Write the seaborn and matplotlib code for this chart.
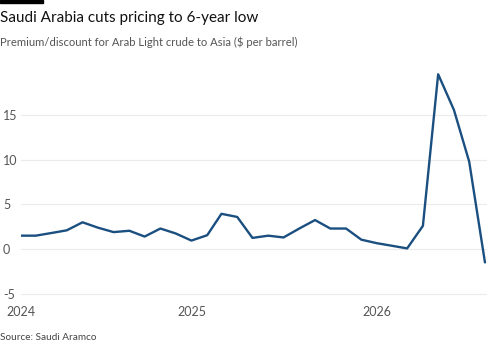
import matplotlib.pyplot as plt
import matplotlib.patches as patches
import seaborn as sns
import pandas as pd

# monthly premium/discount, Feb 2024 .. Aug 2026
months = pd.date_range("2024-02-01", periods=31, freq="MS")
premium = [1.5, 1.5, 1.8, 2.1, 3.0, 2.4, 1.9, 2.05, 1.4, 2.3, 1.75, 0.95,
           1.55, 3.95, 3.6, 1.25, 1.5, 1.3, 2.3, 3.25, 2.3, 2.3, 1.05, 0.65,
           0.35, 0.07, 2.6, 19.6, 15.6, 9.8, -1.5]
year_ticks = pd.to_datetime(["2024-02-01", "2025-01-01", "2026-01-01"])
year_labels = ["2024", "2025", "2026"]
quarter_ticks = pd.to_datetime(["2024-04-01", "2024-07-01", "2024-10-01",
                                "2025-04-01", "2025-07-01", "2025-10-01",
                                "2026-04-01", "2026-07-01"])
y_ticks = [-5, 0, 5, 10, 15]

df = pd.DataFrame({"month": months, "premium": premium})

sns.set_theme(style="white")
plt.rcParams["font.family"] = ["Lato", "DejaVu Sans"]

fig = plt.figure(figsize=(5, 3.57), dpi=100)
ax = fig.add_axes([0.042, 0.170, 0.932, 0.627])

sns.lineplot(data=df, x="month", y="premium", color="#1b4f80", linewidth=1.7, ax=ax)

ax.set_ylim(-5.3, 19.8)
ax.set_xlim(months[0], pd.Timestamp("2026-08-05"))
ax.set_yticks(y_ticks)
ax.set_yticklabels([str(v) for v in y_ticks])
ax.yaxis.grid(True, color="#ebebeb", linewidth=0.8)
ax.set_axisbelow(True)
for s in ax.spines.values():
    s.set_visible(False)

ax.set_xticks(list(year_ticks) + list(quarter_ticks))
ax.set_xticklabels(year_labels + [""] * len(quarter_ticks))
ax.tick_params(axis="x", length=4, color="#d8d8d8", labelsize=9, labelcolor="#555555", pad=3)
ax.tick_params(axis="y", length=0, labelsize=9, labelcolor="#555555", pad=13)
for lab in ax.get_yticklabels():
    lab.set_horizontalalignment("left")
ax.set_xlabel("")
ax.set_ylabel("")

fig.add_artist(patches.Rectangle((0, 1 - 3 / 357), 43 / 500, 3 / 357,
                                 transform=fig.transFigure, color="black"))
fig.text(0.0, 1 - 18 / 357, "Saudi Arabia cuts pricing to 6-year low",
         fontsize=11, color="#111111", va="center", ha="left")
fig.text(0.0, 1 - 42 / 357, "Premium/discount for Arab Light crude to Asia ($ per barrel)",
         fontsize=8.1, color="#555555", va="center", ha="left")
fig.text(0.0, 1 - 338 / 357, "Source: Saudi Aramco",
         fontsize=7.2, color="#444444", va="center", ha="left")

fig.savefig("out.png", dpi=100, facecolor="white")
